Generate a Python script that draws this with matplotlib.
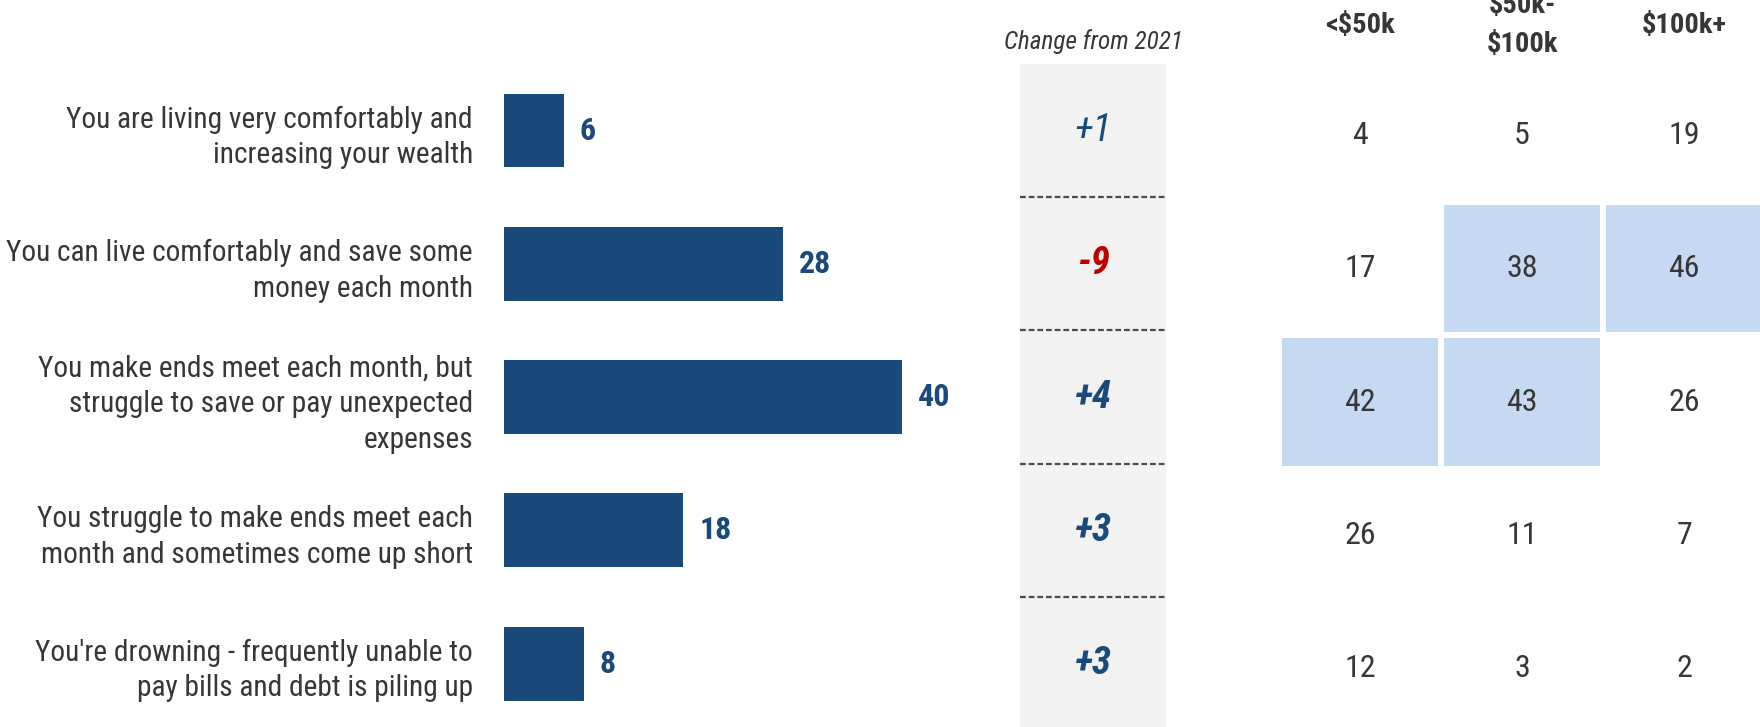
import numpy as np
import matplotlib
matplotlib.use("Agg")
import matplotlib.pyplot as plt
from matplotlib import font_manager as fm
from matplotlib.colors import ListedColormap

# condensed face if one is installed, otherwise shrink the wide texts
_names = {f.name for f in fm.fontManager.ttflist}
_narrow = [n for n in ('Liberation Sans Narrow', 'Roboto Condensed', 'Open Sans Condensed',
                       'Noto Sans Condensed', 'DejaVu Sans Condensed') if n in _names]
if _narrow:
    plt.rcParams['font.family'] = [_narrow[0], 'Liberation Sans', 'DejaVu Sans']
    WSCALE = 1.0
else:
    plt.rcParams['font.family'] = ['Liberation Sans', 'DejaVu Sans']
    WSCALE = 0.82

# ── Data ──────────────────────────────────────────────────────────────────
labels = [
    "You are living very comfortably and\nincreasing your wealth",
    "You can live comfortably and save some\nmoney each month",
    "You make ends meet each month, but\nstruggle to save or pay unexpected\nexpenses",
    "You struggle to make ends meet each\nmonth and sometimes come up short",
    "You're drowning - frequently unable to\npay bills and debt is piling up",
]
totals = [6, 28, 40, 18, 8]
changes = [1, -9, 4, 3, 3]
income_groups = ["<$50k", "$50k-\n$100k", "$100k+"]
under_50k = [4, 17, 42, 26, 12]
mid_50_100k = [5, 38, 43, 11, 3]
over_100k = [19, 46, 26, 7, 2]
highlight_cut = 30

# ── Style ─────────────────────────────────────────────────────────────────
NAVY = "#1A4A7C"
RED = "#C00000"
TEXT = "#363636"
GRAY_BG = "#F2F2F2"
HILITE = "#C5DAF2"

W, H = 1760, 727
fig = plt.figure(figsize=(W / 100, H / 100), dpi=100)

n = len(labels)
row_px, top_px = 133.3, 130.5
ylim = ((H - top_px) / row_px, -top_px / row_px)

# ── Bars ──────────────────────────────────────────────────────────────────
bar_left, px_per_unit, bar_w = 504, 9.95, 480
ax = fig.add_axes([bar_left / W, 0, bar_w / W, 1])
ax.barh(range(n), totals, height=0.555, color=NAVY)
ax.set_xlim(0, bar_w / px_per_unit)
ax.set_ylim(*ylim)
ax.set_yticks(range(n), labels=labels)
ax.tick_params(axis='y', length=0, pad=22.5, labelsize=21.2 * WSCALE, labelcolor=TEXT)
for t in ax.get_yticklabels():
    t.set_linespacing(1.35 / WSCALE ** 0.9)
ax.set_xticks([])
for s in ax.spines.values():
    s.set_visible(False)
for i, v in enumerate(totals):
    ax.annotate(str(v), (v, i), xytext=(11.5, 0), textcoords='offset points',
                ha='left', va='center', fontsize=23, fontweight='bold', color=NAVY)

# ── Change from 2021 column ───────────────────────────────────────────────
ax_chg = fig.add_axes([1020 / W, 0, 146 / W, 1])
ax_chg.set_xlim(0, 1)
ax_chg.set_ylim(*ylim)
ax_chg.axhspan(-0.5, n + 1, color=GRAY_BG, lw=0)
for k in range(n - 1):
    ax_chg.axhline(k + 0.5, color="#4A4A4A", lw=1.6, dashes=(2.6, 1.3))
for i, c in enumerate(changes):
    ax_chg.text(0.5, i, f"{c:+d}", ha='center', va='center', fontsize=28 * max(WSCALE, 0.9),
                style='italic', fontweight='normal' if abs(c) == 1 else 'bold',
                color=RED if c < 0 else NAVY)
ax_chg.text(0.5, -0.668, "Change from 2021", ha='center', va='center',
            fontsize=18.2 * WSCALE, style='italic', color=TEXT)
ax_chg.axis('off')

# ── Income heatmap ────────────────────────────────────────────────────────
grid = np.array([under_50k, mid_50_100k, over_100k]).T
shift = 5
ax_hm = fig.add_axes([1279 / W, -shift / H, 486 / W, 1])
ax_hm.pcolormesh(np.arange(4) - 0.5, np.arange(n + 1) - 0.5,
                 (grid >= highlight_cut).astype(float),
                 cmap=ListedColormap(["white", HILITE]), vmin=0, vmax=1,
                 edgecolors='white', linewidth=2.9)
ax_hm.set_xlim(-0.5, 2.5)
ax_hm.set_ylim(*ylim)
for i in range(n):
    for j in range(3):
        ax_hm.text(j, i, str(grid[i, j]), ha='center', va='center',
                   fontsize=23, color=TEXT)
head_y = (25 - top_px - shift) / row_px
for j, g in enumerate(income_groups):
    ax_hm.text(j, head_y, g, ha='center', va='center', fontsize=20.5 * max(WSCALE, 0.9),
               fontweight='bold', color=TEXT, linespacing=1.6, clip_on=False)
ax_hm.axis('off')

fig.savefig("out.png", dpi=100)
